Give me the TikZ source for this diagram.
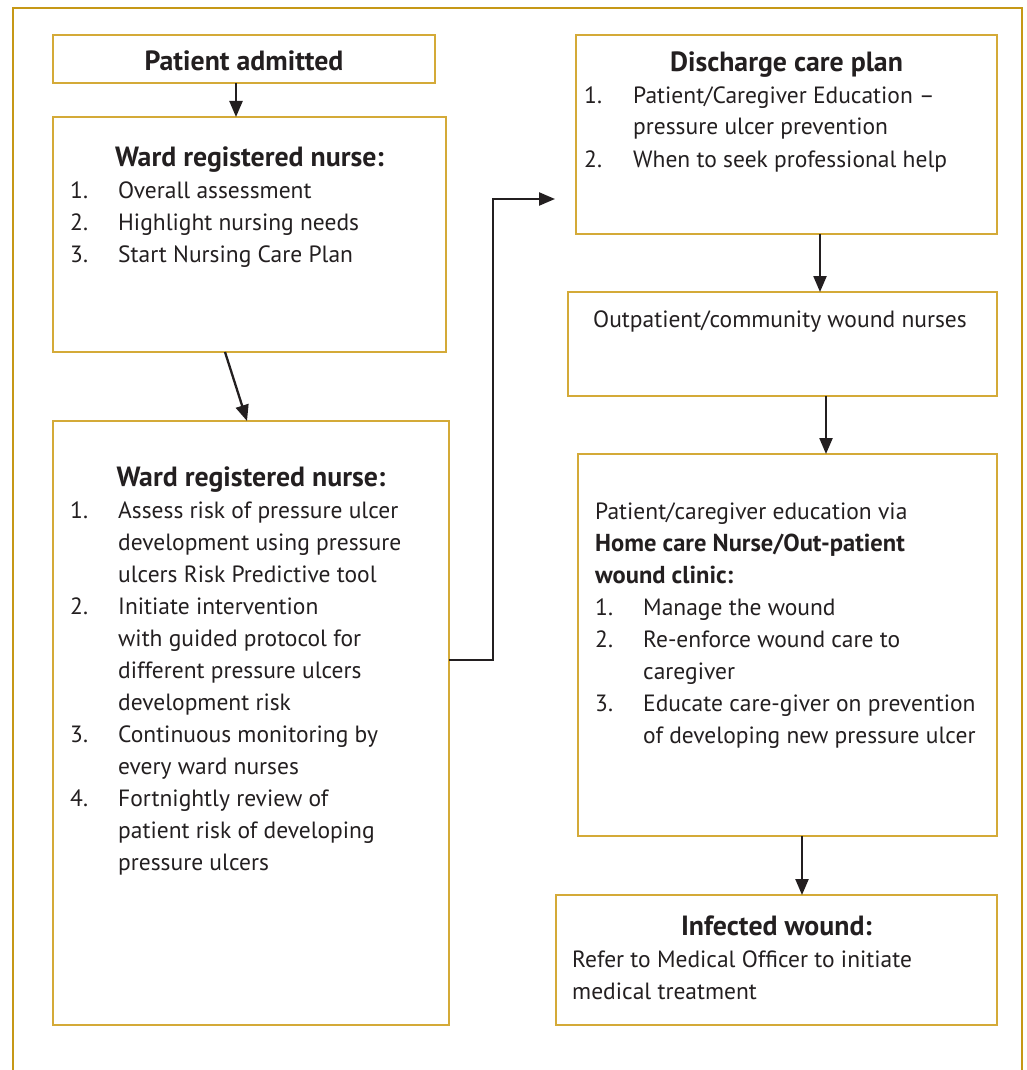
\documentclass[tikz,border=0pt]{standalone}
\usepackage{fontspec}
\setmainfont{PT Sans}
\usetikzlibrary{arrows.meta}
\definecolor{framec}{RGB}{198,152,22}
\definecolor{boxc}{RGB}{212,170,56}
\definecolor{ink}{RGB}{35,31,32}
\newcommand\fs{\fontsize{23.5}{32}\selectfont}
\newcommand\fsb{\fontsize{24.5}{32}\selectfont\bfseries}
\newcommand\fst{\fontsize{27.8}{34}\selectfont\bfseries}
\tikzset{
  box/.style={draw=boxc, line width=1.8pt, rectangle, inner sep=0pt, outer sep=0pt, anchor=north west},
  arr/.style={draw=ink, line width=2.3pt, -{Triangle[width=13pt,length=16pt]}},
  txt/.style={anchor=base west, inner sep=0pt, text=ink, font=\fs},
  ttl/.style={anchor=base, inner sep=0pt, text=ink, font=\fst},
  btxt/.style={anchor=base west, inner sep=0pt, text=ink, font=\fsb},
}
\begin{document}
\begin{tikzpicture}[x=1pt,y=-1pt]
\useasboundingbox (0,0) rectangle (1026,1070);
\fill[white] (0,0) rectangle (1026,1070);
% outer frame
\draw[draw=framec, line width=2pt] (13,1072) -- (13,8) -- (1022,8) -- (1022,1072);

% boxes
\node[box, minimum width=382pt, minimum height=48pt]  (pa) at (53,35) {};
\node[box, minimum width=393pt, minimum height=235pt] (w1) at (53,117) {};
\node[box, minimum width=396pt, minimum height=604pt] (w2) at (53,421) {};
\node[box, minimum width=421pt, minimum height=199pt] (dc) at (576,35) {};
\node[box, minimum width=429pt, minimum height=104pt] (op) at (568,292) {};
\node[box, minimum width=419pt, minimum height=382pt] (hc) at (578,454) {};
\node[box, minimum width=441pt, minimum height=130pt] (iw) at (556,895) {};

% text: patient admitted
\node[ttl] (pat) at (244,71) {Patient admitted};

% ward 1
\node[ttl] (w1t) at (249.5,166) {Ward registered nurse:};
\node[txt] (w1n1) at (70,198) {1.};
\node[txt] (w1n2) at (70,230) {2.};
\node[txt] (w1n3) at (70,262) {3.};
\node[txt] (w1a) at (118,198) {Overall assessment};
\node[txt] (w1b) at (118,230) {Highlight nursing needs};
\node[txt] (w1c) at (118,262) {Start Nursing Care Plan};

% ward 2
\node[ttl] (w2t) at (251,486) {Ward registered nurse:};
\node[txt] (w2n1) at (70,518) {1.};
\node[txt] (w2n2) at (70,614) {2.};
\node[txt] (w2n3) at (70,742) {3.};
\node[txt] (w2n4) at (70,806) {4.};
\node[txt] (w2a) at (118,518) {Assess risk of pressure ulcer};
\node[txt] (w2b) at (118,550) {development using pressure};
\node[txt] (w2c) at (118,582) {ulcers Risk Predictive tool};
\node[txt] (w2d) at (118,614) {Initiate intervention};
\node[txt] (w2e) at (118,646) {with guided protocol for};
\node[txt] (w2f) at (118,678) {different pressure ulcers};
\node[txt] (w2g) at (118,710) {development risk};
\node[txt] (w2h) at (118,742) {Continuous monitoring by};
\node[txt] (w2i) at (118,774) {every ward nurses};
\node[txt] (w2j) at (118,806) {Fortnightly review of};
\node[txt] (w2k) at (118,838) {patient risk of developing};
\node[txt] (w2l) at (118,870) {pressure ulcers};

% discharge
\node[ttl] (dct) at (786.5,72) {Discharge care plan};
\node[txt] (dcn1) at (584,103) {1.};
\node[txt] (dcn2) at (584,167) {2.};
\node[txt] (dca) at (633,103) {Patient/Caregiver Education –};
\node[txt] (dcb) at (633,135) {pressure ulcer prevention};
\node[txt] (dcc) at (633,167) {When to seek professional help};

% outpatient
\node[txt] (opt) at (593,327) {Outpatient/community wound nurses};

% home care
\node[txt]  (hca) at (595,519) {Patient/caregiver education via};
\node[btxt] (hcb) at (595,551) {Home care Nurse/Out-patient};
\node[btxt] (hcc) at (595,583) {wound clinic:};
\node[txt] (hcn1) at (595,615) {1.};
\node[txt] (hcn2) at (595,647) {2.};
\node[txt] (hcn3) at (595,711) {3.};
\node[txt] (hcd) at (643,615) {Manage the wound};
\node[txt] (hce) at (643,647) {Re-enforce wound care to};
\node[txt] (hcf) at (643,679) {caregiver};
\node[txt] (hcg) at (643,711) {Educate care-giver on prevention};
\node[txt] (hch) at (643,743) {of developing new pressure ulcer};

% infected
\node[ttl] (iwt) at (776.5,935) {Infected wound:};
\node[txt] (iwa) at (572,967) {Refer to Medical Officer to initiate};
\node[txt] (iwb) at (572,999) {medical treatment};

% connectors
\coordinate (bendA) at (493,660);
\coordinate (bendB) at (493,199);
\coordinate (dcin) at (555,199);
\draw[arr] ([xshift=-8pt]pa.south) -- ([xshift=-8pt]pa.south |- w1.north);
\draw[arr] ([xshift=-24.5pt]w1.south) -- ([xshift=-4pt]w2.north);
\draw[arr] (w2.east |- bendA) -- (bendA) -- (bendB) -- (dcin);
\draw[arr] ([xshift=33.5pt]dc.south) -- ([xshift=33.5pt]dc.south |- op.north);
\draw[arr] ([xshift=43.5pt]op.south) -- ([xshift=43.5pt]op.south |- hc.north);
\draw[arr] ([xshift=14.5pt]hc.south) -- ([xshift=14.5pt]hc.south |- iw.north);
\end{tikzpicture}
\end{document}
